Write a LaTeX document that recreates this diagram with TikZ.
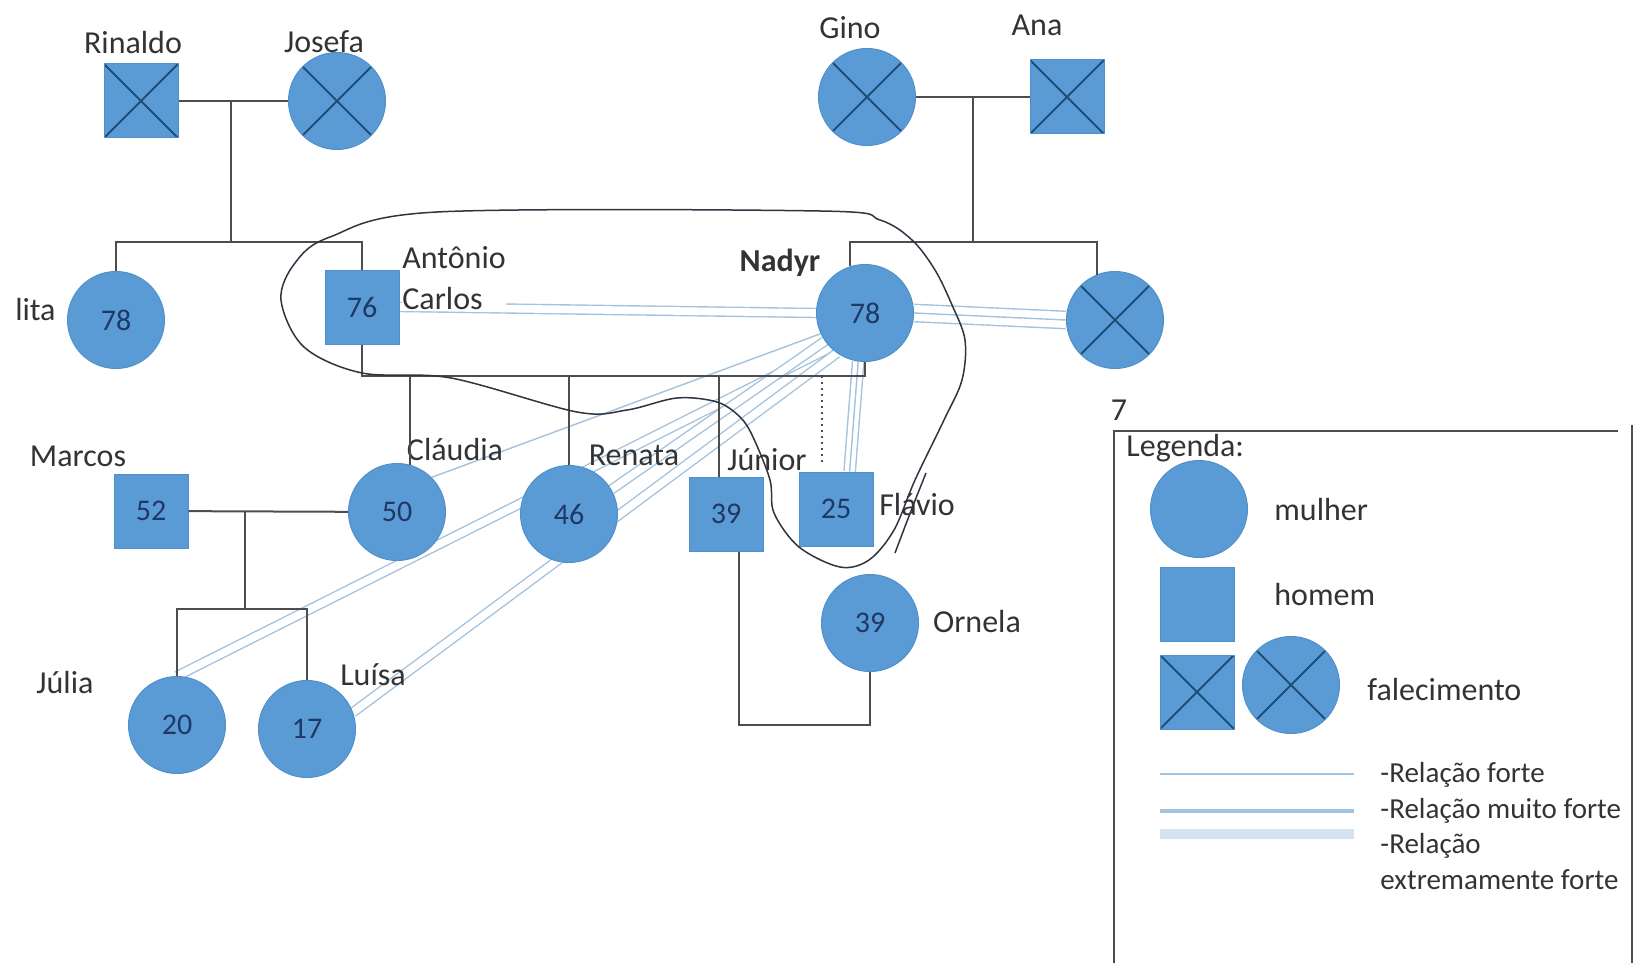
\documentclass[tikz,border=0pt]{standalone}
\usepackage{fontspec}
\setmainfont{Carlito}
\usetikzlibrary{backgrounds}
\definecolor{azul}{HTML}{5B9BD5}
\definecolor{borda}{HTML}{4F8FCB}
\definecolor{cruz}{HTML}{1F4E79}
\definecolor{numcol}{HTML}{1F3864}
\definecolor{textcol}{HTML}{333333}
\definecolor{treecol}{HTML}{4D4D4D}
\definecolor{relcol}{HTML}{A3C2DE}
\definecolor{relband}{HTML}{D3E3F1}
\definecolor{lacocol}{HTML}{2E3440}
\newcommand{\nomefont}{\fontsize{16}{20.5}\selectfont}
\newcommand{\numfont}{\fontsize{15}{18}\selectfont}
\newcommand{\legfont}{\fontsize{14.5}{17.8}\selectfont}
\tikzset{mulher/.style={circle, fill=azul, draw=borda, line width=0.5pt, minimum size=48.5pt, inner sep=0pt, text=numcol, font=\numfont},
	homem/.style={rectangle, fill=azul, draw=borda, line width=0.5pt, minimum size=37pt, inner sep=0pt, text=numcol, font=\numfont},
	obito/.style={path picture={\draw[cruz, line width=1pt] (path picture bounding box.north west) -- (path picture bounding box.south east) (path picture bounding box.north east) -- (path picture bounding box.south west);}},
	nome/.style={text=textcol, font=\nomefont, inner sep=0pt},
	arvore/.style={draw=treecol, line width=1pt},
	forte/.style={draw=relcol, line width=0.7pt},
	muitoforte/.style={draw=relcol, line width=0.7pt, double=white, double distance=3.8pt},
	extremo/.style={draw=relcol, line width=0.7pt, double=relband, double distance=6.5pt},
	laco/.style={draw=lacocol, line width=0.75pt}}

\begin{document}
\begin{tikzpicture}[x=0.5pt,y=-0.5pt]
	\useasboundingbox (0,0) rectangle (1634,963);
	% avos
	\node[homem,obito] (rinaldo) at (141,101) {};
	\node[mulher,obito] (josefa) at (337,101) {};
	\node[mulher,obito] (gino) at (867,97) {};
	\node[homem,obito] (ana) at (1067,97) {};
	% pais e tios
	\node[mulher] (lita) at (116,320) {78};
	\node[homem] (antonio) at (362,307) {76};
	\node[mulher] (nadyr) at (865,313) {78};
	\node[mulher,obito] (irmao) at (1115,320) {};
	% filhos
	\node[homem] (marcos) at (151,511) {52};
	\node[mulher] (claudia) at (397,512) {50};
	\node[mulher] (renata) at (569,514) {46};
	\node[homem] (junior) at (726,514) {39};
	\node[homem] (flavio) at (836,509) {25};
	\node[mulher] (ornela) at (870,623) {39};
	% netas
	\node[mulher] (julia) at (177,725) {20};
	\node[mulher] (luisa) at (307,729) {17};

	% nomes
	\node[nome] (nrinaldo) at (133,43) {Rinaldo};
	\node[nome] (njosefa) at (324,42) {Josefa};
	\node[nome] (ngino) at (850,28) {Gino};
	\node[nome] (nana) at (1037,25) {Ana};
	\node[nome, anchor=east] (nlita) at (56,310) {lita};
	\node[nome, anchor=west, align=left, fill=white] (nantonio) at (402,278) {Antônio\\Carlos};
	\node[nome, font=\nomefont\bfseries] (nnadyr) at (780,263) {Nadyr};
	\node[nome] (nmarcos) at (78,456) {Marcos};
	\node[nome] (nclaudia) at (455,450) {Cláudia};
	\node[nome] (nrenata) at (634,455) {Renata};
	\node[nome] (njunior) at (767,460) {Júnior};
	\node[nome] (nflavio) at (917,505) {Flávio};
	\node[nome] (nornela) at (977,622) {Ornela};
	\node[nome] (njulia) at (65,683) {Júlia};
	\node[nome] (nluisa) at (373,675) {Luísa};

	% pontos da arvore
	\coordinate (rj) at (231,101);
	\coordinate (rjfilhos) at (231,242);
	\coordinate (ga) at (973,97);
	\coordinate (gafilhos) at (973,242);
	\coordinate (familia) at (0,376);
	\coordinate (mc) at (245,512);
	\coordinate (mcfilhas) at (245,609);
	\coordinate (jo) at (739,725);
	\coordinate (adotivo) at (822,376);

	% arvore
	\draw[arvore] (rinaldo) -- (josefa);
	\draw[arvore] (rj) -- (rjfilhos);
	\draw[arvore] (lita.north) |- (rjfilhos) -| (antonio.north);
	\draw[arvore] (gino) -- (ana);
	\draw[arvore] (ga) -- (gafilhos);
	\draw[arvore] (nadyr.108) |- (gafilhos) -| (irmao.112);
	\draw[arvore] (antonio.south) |- (nadyr.south |- familia) -- (nadyr.south);
	\draw[arvore] (claudia.75 |- familia) -- (claudia.75);
	\draw[arvore] (renata.north |- familia) -- (renata.north);
	\draw[arvore] (junior.100 |- familia) -- (junior.100);
	\draw[arvore, dotted, line width=1.2pt] (adotivo) -- ([yshift=3pt]adotivo |- flavio.north);
	\draw[arvore] (marcos) -- (claudia);
	\draw[arvore] (mc) -- (mcfilhas);
	\draw[arvore] (julia.north) |- (mcfilhas) -| (luisa.north);
	\draw[arvore] (junior.south -| jo) -- (jo) -| (ornela.south);

	% relacoes
	\begin{scope}[on background layer]
		\draw[muitoforte] (antonio.east) -- (nadyr.west);
		\draw[muitoforte, double distance=8pt] (nadyr.east) -- (irmao.west);
		\draw[forte] (nadyr.east) -- (irmao.west); %terceira linha
		\draw[forte] (claudia.45) -- (nadyr.205);
		\draw[muitoforte] (julia.north) -- (nadyr.225);
		\draw[muitoforte] (renata.30) -- (nadyr.215);
		\draw[muitoforte] (luisa.20) -- (nadyr.235);
		\draw[muitoforte, double distance=5pt] (flavio.70) -- (nadyr.262);
		\draw[forte] (flavio.70) -- (nadyr.262); %terceira linha
	\end{scope}

	% laco a mao
	\draw[laco] plot[smooth cycle, tension=0.55] coordinates {(295,263) (330,237) (437,212) (820,211) (880,220) (912,240) (935,270) (952,305) (965,340) (962,380) (944,420) (915,480) (894,530) (869,560) (840,567) (799,547) (774,513) (770,480) (753,437) (740,417) (717,402) (677,398) (627,410) (577,412) (451,378) (362,373) (304,347) (281,300)};
	\draw[laco] (926,473) .. controls (912,508) .. (895,553);

	% legenda
	\node[nome] (sete) at (1119,410) {7};
	\draw[arvore, line width=0.9pt] (1114,963) -- (1114,431) -- (1618,431);
	\draw[arvore, line width=0.9pt] (1632,425) -- (1632,963);
	\node[nome, anchor=west] (legenda) at (1126,448) {Legenda:};
	\node[mulher] (lmulher) at (1199,509) {};
	\node[homem] (lhomem) at (1197,604) {};
	\node[homem,obito] (lhomemx) at (1197,692) {};
	\node[mulher,obito] (lmulherx) at (1291,685) {};
	\node[nome, anchor=west] (tmulher) at (1274,510) {mulher};
	\node[nome, anchor=west] (thomem) at (1274,594) {homem};
	\node[nome, anchor=west] (tfalec) at (1367,690) {falecimento};
	\draw[relcol, line width=0.8pt] (1160,774) -- (1354,774);
	\draw[relcol, line width=2pt] (1160,811) -- (1354,811);
	\draw[relband, line width=5pt] (1160,834) -- (1354,834);
	\node[nome, anchor=north west, align=left, font=\legfont] (trel) at (1380,762) {-Relação forte\\-Relação muito forte\\-Relação\\extremamente forte};
\end{tikzpicture}
\end{document}
